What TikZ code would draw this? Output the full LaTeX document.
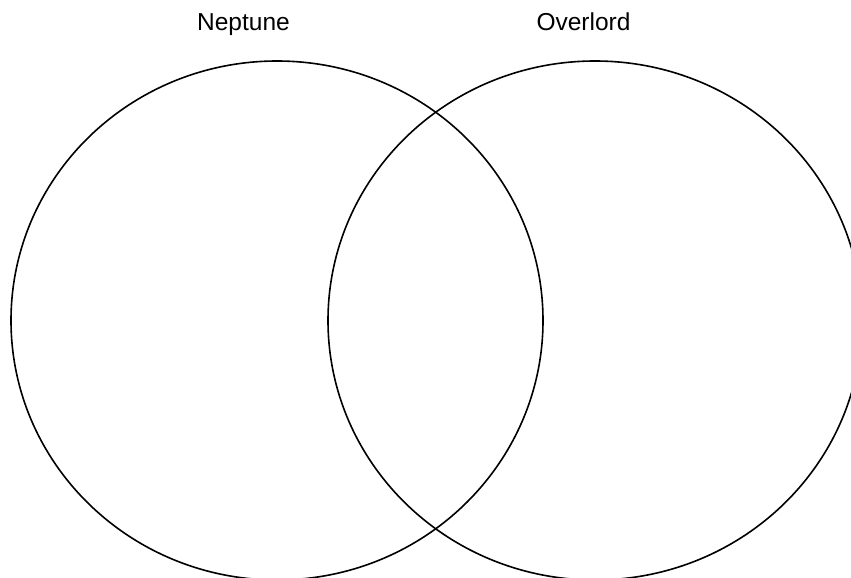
\documentclass[tikz,border=0pt]{standalone}
\usepackage{fontspec}
\setmainfont{Liberation Sans}
\begin{document}
\begin{tikzpicture}[x=1pt,y=-1pt,
  setline/.style={draw=black,line width=1.6pt},
  setlabel/.style={font=\fontsize{24.5}{30}\selectfont,anchor=base,inner sep=0pt}]
\useasboundingbox (0,0) rectangle (851,578);
\draw[setline] (277,320.5) ellipse [x radius=266pt, y radius=259.5pt];
\draw[setline] (595,320.5) ellipse [x radius=267pt, y radius=259.5pt];
\node[setlabel] (neptune) at (243.5,31) {Neptune};
\node[setlabel] (overlord) at (583.5,31) {Overlord};
\end{tikzpicture}
\end{document}
